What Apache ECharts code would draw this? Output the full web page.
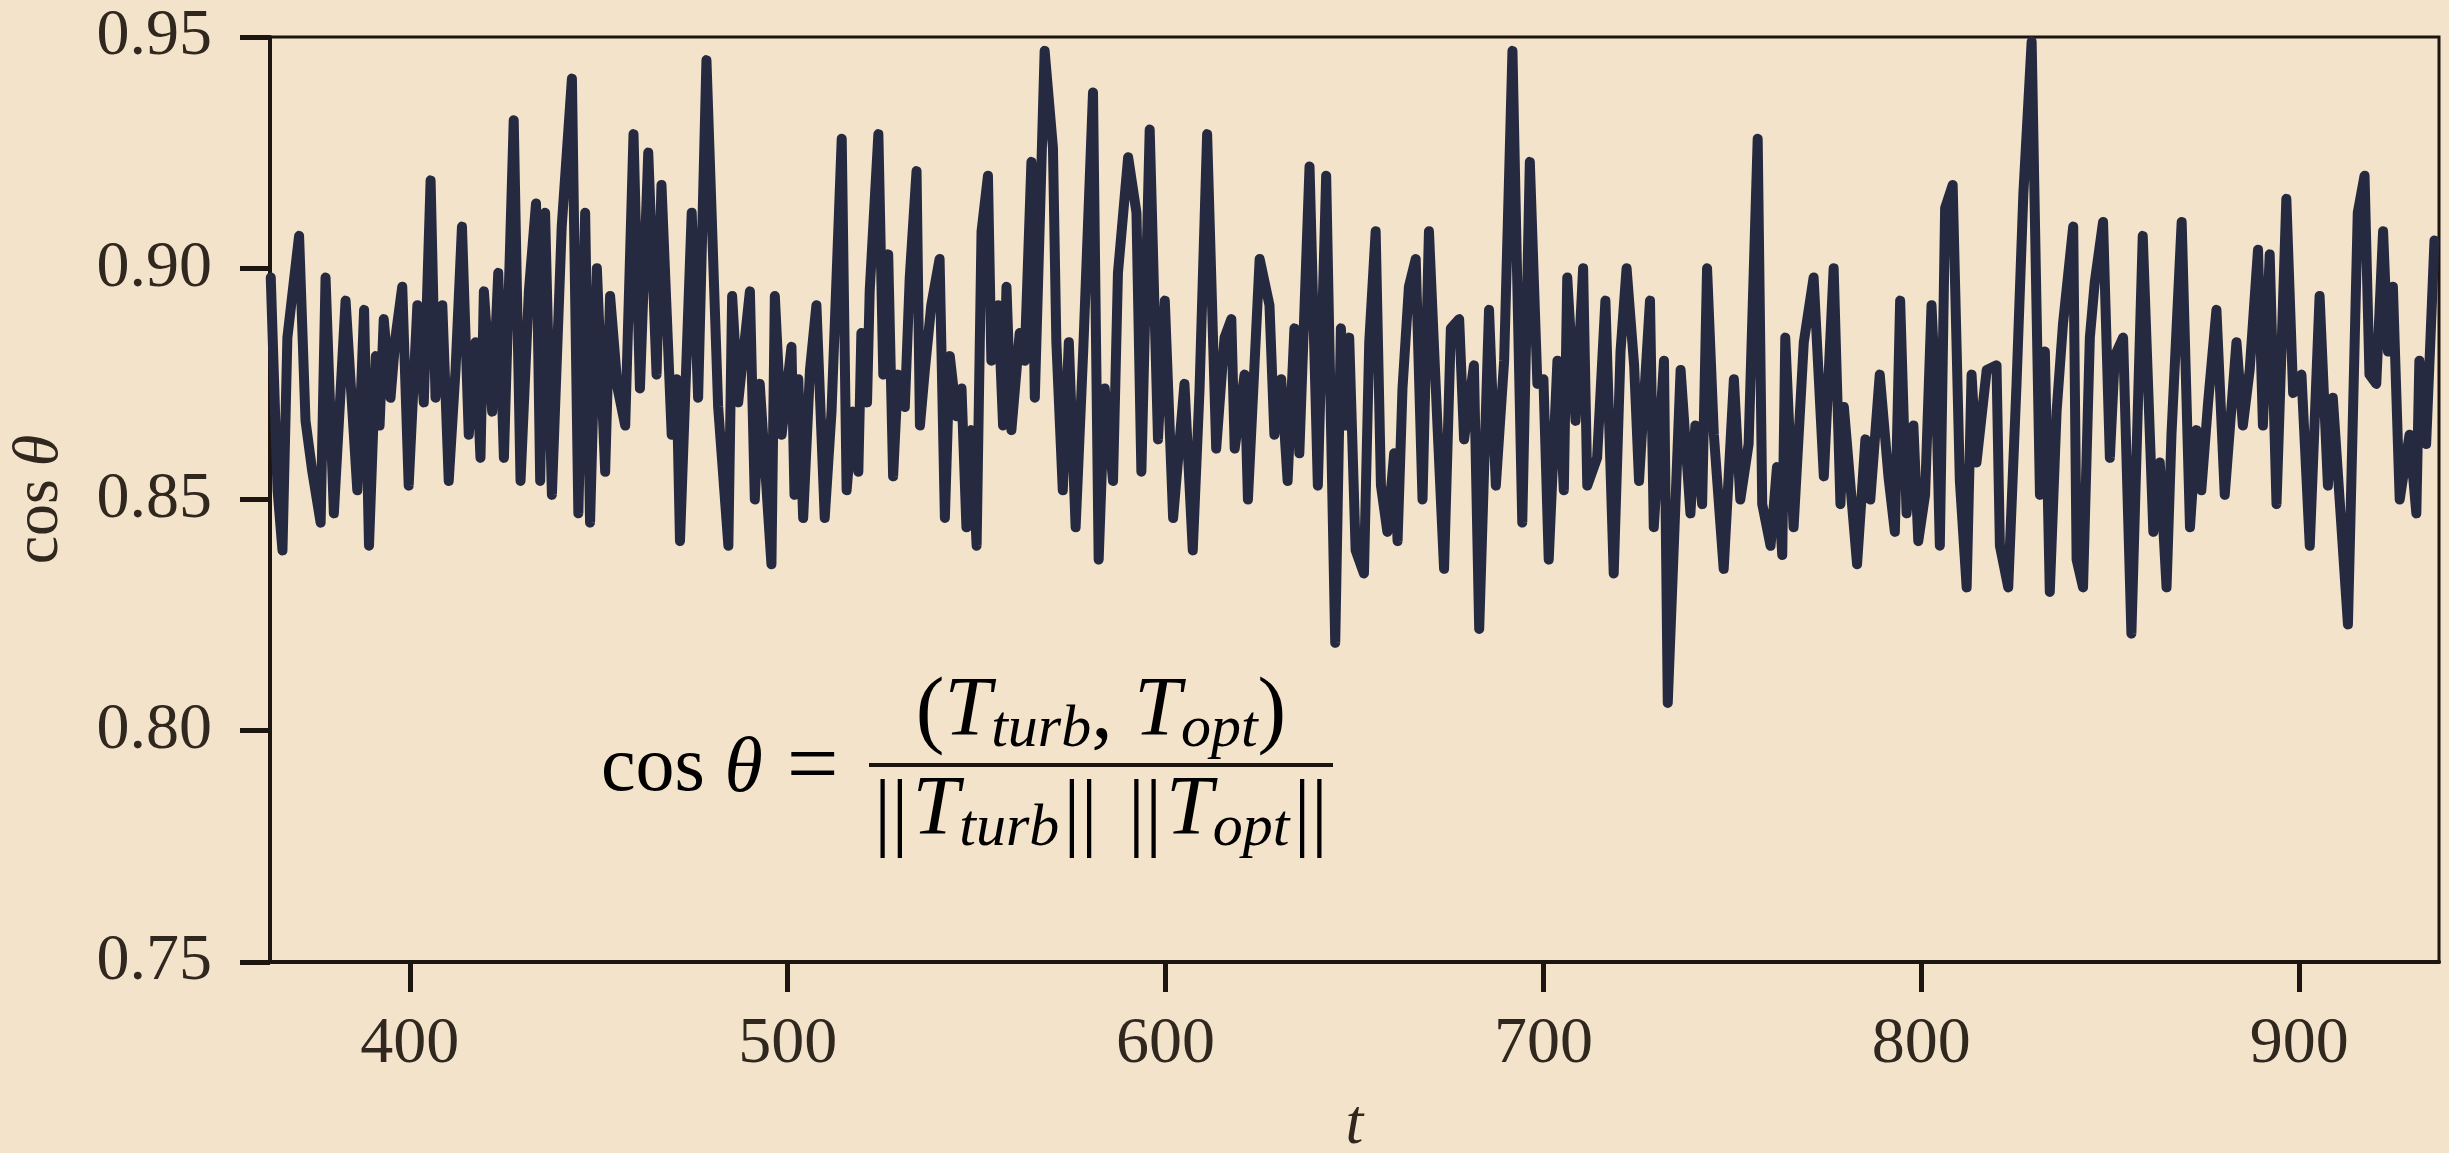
<!DOCTYPE html>
<html>
<head>
<meta charset="utf-8">
<title>cos theta</title>
<script src="https://cdn.jsdelivr.net/npm/echarts@6/dist/echarts.min.js"></script>
<style>
  html, body { margin: 0; padding: 0; background: #F3E3CA; }
  #chart { width: 2449px; height: 1153px; }
</style>
</head>
<body>
<div id="chart"></div>
<script>
const tValues = [
  363.2, 365.0, 366.3, 367.6, 370.7, 372.4, 374.2, 376.4, 377.7, 379.9,
  383.0, 386.1, 387.9, 389.2, 391.0, 392.0, 393.1, 394.9, 396.2, 398.0,
  399.7, 402.0, 403.7, 405.5, 406.8, 408.6, 410.3, 412.1, 413.8, 415.6,
  417.4, 418.7, 419.6, 421.8, 423.4, 424.9, 427.5, 429.3, 431.5, 433.4,
  434.5, 435.8, 437.6, 440.2, 442.9, 444.6, 446.4, 447.7, 449.5, 451.7,
  453.0, 455.0, 457.0, 459.2, 460.9, 463.1, 465.3, 466.6, 469.3, 470.6,
  471.5, 474.6, 476.3, 478.5, 481.6, 484.3, 485.3, 486.9, 490.0, 491.3,
  492.6, 495.7, 496.6, 498.4, 501.0, 501.8, 502.8, 504.1, 505.9, 507.6,
  509.8, 511.6, 514.3, 515.6, 517.3, 518.7, 519.5, 521.0, 521.7, 524.0,
  525.3, 526.6, 527.9, 529.2, 531.0, 532.3, 534.1, 535.0, 536.3, 538.0,
  540.2, 541.6, 542.9, 544.7, 546.0, 547.3, 548.6, 550.0, 551.3, 553.0,
  553.9, 555.7, 557.0, 557.9, 559.2, 561.4, 562.7, 564.5, 565.4, 568.0,
  570.2, 571.1, 572.8, 574.4, 576.2, 578.2, 580.8, 582.3, 583.9, 586.1,
  587.4, 590.1, 592.3, 593.6, 595.8, 598.0, 599.8, 602.0, 605.0, 607.2,
  609.0, 611.0, 613.4, 615.6, 617.4, 618.3, 620.9, 621.8, 624.9, 627.5,
  628.8, 630.6, 632.3, 634.1, 635.4, 638.1, 640.3, 642.5, 644.9, 646.4,
  647.6, 648.6, 650.3, 652.5, 653.9, 655.6, 657.0, 658.7, 660.5, 661.4,
  662.7, 664.4, 666.2, 668.0, 669.7, 671.9, 673.7, 675.5, 677.7, 679.0,
  681.6, 683.0, 685.6, 687.4, 689.6, 691.8, 694.4, 696.4, 698.4, 700.0,
  701.4, 703.7, 705.4, 706.3, 708.5, 710.5, 711.6, 714.2, 716.4, 718.6,
  720.4, 722.0, 724.0, 725.3, 728.2, 729.2, 731.9, 732.9, 736.3, 738.9,
  740.2, 742.0, 743.3, 745.1, 747.7, 750.4, 752.1, 754.3, 756.7, 757.9,
  760.1, 761.8, 763.2, 764.0, 766.2, 768.9, 771.5, 774.2, 776.8, 778.6,
  779.5, 783.0, 785.2, 786.5, 789.0, 791.3, 793.0, 794.4, 796.1, 797.9,
  799.2, 801.0, 802.7, 804.1, 804.9, 806.3, 808.3, 810.2, 812.0, 813.3,
  814.6, 817.3, 819.9, 820.8, 823.0, 825.2, 827.0, 829.2, 831.4, 832.7,
  834.0, 835.8, 837.5, 840.2, 841.1, 842.8, 844.6, 845.9, 848.1, 849.9,
  851.2, 853.4, 855.6, 858.6, 861.4, 863.1, 864.9, 866.2, 868.9, 871.1,
  872.8, 874.1, 875.9, 878.1, 880.3, 883.4, 885.1, 886.9, 889.1, 890.4,
  892.2, 894.0, 896.6, 898.4, 900.6, 902.8, 905.4, 907.6, 908.9, 910.7,
  912.9, 915.5, 917.3, 918.6, 920.4, 922.2, 923.5, 924.8, 926.6, 929.2,
  931.0, 931.8, 933.6, 935.8
]
const cosTheta = [
  0.898, 0.852, 0.839, 0.885, 0.907, 0.867, 0.856, 0.845, 0.898, 0.847,
  0.893, 0.852, 0.891, 0.840, 0.881, 0.866, 0.889, 0.872, 0.885, 0.896,
  0.853, 0.892, 0.871, 0.919, 0.872, 0.892, 0.854, 0.878, 0.909, 0.864,
  0.884, 0.859, 0.895, 0.869, 0.899, 0.859, 0.932, 0.854, 0.895, 0.914,
  0.854, 0.912, 0.851, 0.909, 0.941, 0.847, 0.912, 0.845, 0.900, 0.856,
  0.894, 0.874, 0.866, 0.929, 0.874, 0.925, 0.877, 0.918, 0.864, 0.876,
  0.841, 0.912, 0.872, 0.945, 0.870, 0.840, 0.894, 0.871, 0.895, 0.850,
  0.875, 0.836, 0.894, 0.864, 0.883, 0.851, 0.876, 0.846, 0.878, 0.892,
  0.846, 0.869, 0.928, 0.852, 0.869, 0.856, 0.886, 0.871, 0.895, 0.929,
  0.877, 0.903, 0.855, 0.877, 0.870, 0.898, 0.921, 0.866, 0.878, 0.892,
  0.902, 0.846, 0.881, 0.868, 0.874, 0.844, 0.865, 0.840, 0.908, 0.920,
  0.880, 0.892, 0.866, 0.896, 0.865, 0.886, 0.880, 0.923, 0.872, 0.947,
  0.926, 0.884, 0.852, 0.884, 0.844, 0.882, 0.938, 0.837, 0.874, 0.854,
  0.899, 0.924, 0.912, 0.856, 0.930, 0.863, 0.893, 0.846, 0.875, 0.839,
  0.874, 0.929, 0.861, 0.885, 0.889, 0.861, 0.877, 0.850, 0.902, 0.892,
  0.864, 0.876, 0.854, 0.887, 0.860, 0.922, 0.853, 0.920, 0.819, 0.887,
  0.866, 0.885, 0.839, 0.834, 0.884, 0.908, 0.853, 0.843, 0.860, 0.841,
  0.874, 0.896, 0.902, 0.850, 0.908, 0.867, 0.835, 0.887, 0.889, 0.863,
  0.879, 0.822, 0.891, 0.853, 0.880, 0.947, 0.845, 0.923, 0.875, 0.876,
  0.837, 0.880, 0.852, 0.898, 0.867, 0.900, 0.853, 0.859, 0.893, 0.834,
  0.882, 0.900, 0.879, 0.854, 0.893, 0.844, 0.880, 0.806, 0.878, 0.847,
  0.866, 0.849, 0.900, 0.864, 0.835, 0.876, 0.850, 0.862, 0.928, 0.849,
  0.840, 0.857, 0.838, 0.885, 0.844, 0.884, 0.898, 0.855, 0.900, 0.849,
  0.870, 0.836, 0.863, 0.850, 0.877, 0.855, 0.843, 0.893, 0.847, 0.866,
  0.841, 0.851, 0.892, 0.867, 0.840, 0.913, 0.918, 0.854, 0.831, 0.877,
  0.858, 0.878, 0.879, 0.840, 0.831, 0.875, 0.916, 0.949, 0.851, 0.882,
  0.830, 0.869, 0.888, 0.909, 0.837, 0.831, 0.885, 0.897, 0.910, 0.859,
  0.881, 0.885, 0.821, 0.907, 0.843, 0.858, 0.831, 0.864, 0.910, 0.844,
  0.865, 0.852, 0.871, 0.891, 0.851, 0.884, 0.866, 0.878, 0.904, 0.866,
  0.903, 0.849, 0.915, 0.873, 0.877, 0.840, 0.894, 0.853, 0.872, 0.850,
  0.823, 0.912, 0.920, 0.877, 0.875, 0.908, 0.882, 0.896, 0.850, 0.864,
  0.847, 0.880, 0.862, 0.906
]
const xTicks = [400, 500, 600, 700, 800, 900]
const yTicks = [0.75, 0.80, 0.85, 0.90, 0.95]

const SERIF = '"Liberation Serif", "DejaVu Serif", serif'
const INK = '#1c1510'
const LABEL = '#30271f'

// rich styles shared by the two halves of the fraction
const fracRich = {
  p: { fontFamily: SERIF, fontSize: 86, color: INK, verticalAlign: 'bottom', padding: [0, 0, 3, 0] },
  v: { fontFamily: SERIF, fontSize: 86, color: INK, verticalAlign: 'bottom', padding: [0, 4, 0, 4] },
  w: { fontFamily: SERIF, fontSize: 86, color: INK, verticalAlign: 'bottom', padding: [0, 4, 0, 26] },
  T: { fontFamily: SERIF, fontSize: 84, fontStyle: 'italic', color: INK, verticalAlign: 'bottom', padding: [0, 0, 5, 0] },
  s: { fontFamily: SERIF, fontSize: 60, fontStyle: 'italic', color: INK, verticalAlign: 'bottom' }
}

const chart = echarts.init(document.getElementById('chart'))

const option = {
  backgroundColor: '#F3E3CA',
  animation: false,
  grid: {
    left: 270,
    right: 10,
    top: 37,
    bottom: 191,
    show: true,
    borderColor: INK,
    borderWidth: 3,
    backgroundColor: 'transparent',
    outerBoundsMode: 'none'
  },
  xAxis: {
    type: 'value',
    min: 363,
    max: 937,
    name: 't',
    nameLocation: 'middle',
    nameGap: 132,
    nameTextStyle: {
      fontFamily: SERIF,
      fontStyle: 'italic',
      fontSize: 64,
      color: LABEL
    },
    axisLine: { lineStyle: { color: INK, width: 4 } },
    axisTick: {
      customValues: xTicks,
      length: 30,
      lineStyle: { color: INK, width: 5 }
    },
    axisLabel: {
      customValues: xTicks,
      margin: 50,
      fontFamily: SERIF,
      fontSize: 66,
      color: LABEL
    },
    splitLine: { show: false }
  },
  yAxis: {
    type: 'value',
    min: 0.75,
    max: 0.95,
    name: '{u|cos}{i|\u2009θ}',
    nameLocation: 'middle',
    nameGap: 198,
    nameRotate: 90,
    nameTextStyle: {
      rich: {
        u: { fontFamily: SERIF, fontSize: 64, color: LABEL },
        i: { fontFamily: SERIF, fontSize: 64, fontStyle: 'italic', color: LABEL }
      }
    },
    axisLine: { show: true, lineStyle: { color: INK, width: 4 } },
    axisTick: {
      show: true,
      customValues: yTicks,
      length: 30,
      lineStyle: { color: INK, width: 5 }
    },
    axisLabel: {
      customValues: yTicks,
      margin: 58,
      fontFamily: SERIF,
      fontSize: 66,
      color: LABEL,
      formatter: v => v.toFixed(2)
    },
    splitLine: { show: false }
  },
  series: [{
    type: 'line',
    showSymbol: false,
    symbol: 'none',
    data: tValues.map((t, i) => [t, cosTheta[i]]),
    lineStyle: {
      color: '#262A40',
      width: 10,
      cap: 'round',
      join: 'round'
    }
  }],
  // the formula written inside the plot
  graphic: [
    {
      type: 'text',
      x: 601,
      y: 770,
      style: {
        text: '{u|cos}{i| θ}{e|=}',
        verticalAlign: 'middle',
        rich: {
          u: { fontFamily: SERIF, fontSize: 78, color: INK },
          i: { fontFamily: SERIF, fontSize: 78, fontStyle: 'italic', color: INK },
          e: { fontFamily: SERIF, fontSize: 92, color: INK, padding: [0, 0, 0, 24] }
        }
      }
    },
    {
      type: 'line',
      shape: { x1: 869, y1: 765, x2: 1333, y2: 765 },
      style: { stroke: INK, lineWidth: 4 }
    },
    {
      type: 'text',
      x: 1101,
      y: 760,
      style: {
        text: '{p|(}{T|T}{s|turb}{p|, }{T|T}{s|opt}{p|)}',
        align: 'center',
        verticalAlign: 'bottom',
        rich: fracRich
      }
    },
    {
      type: 'text',
      x: 1101,
      y: 770,
      style: {
        text: '{v|||}{T|T}{s|turb}{v|||}{w|||}{T|T}{s|opt}{v|||}',
        align: 'center',
        verticalAlign: 'top',
        rich: fracRich
      }
    }
  ]
}

chart.setOption(option)
</script>
</body>
</html>
